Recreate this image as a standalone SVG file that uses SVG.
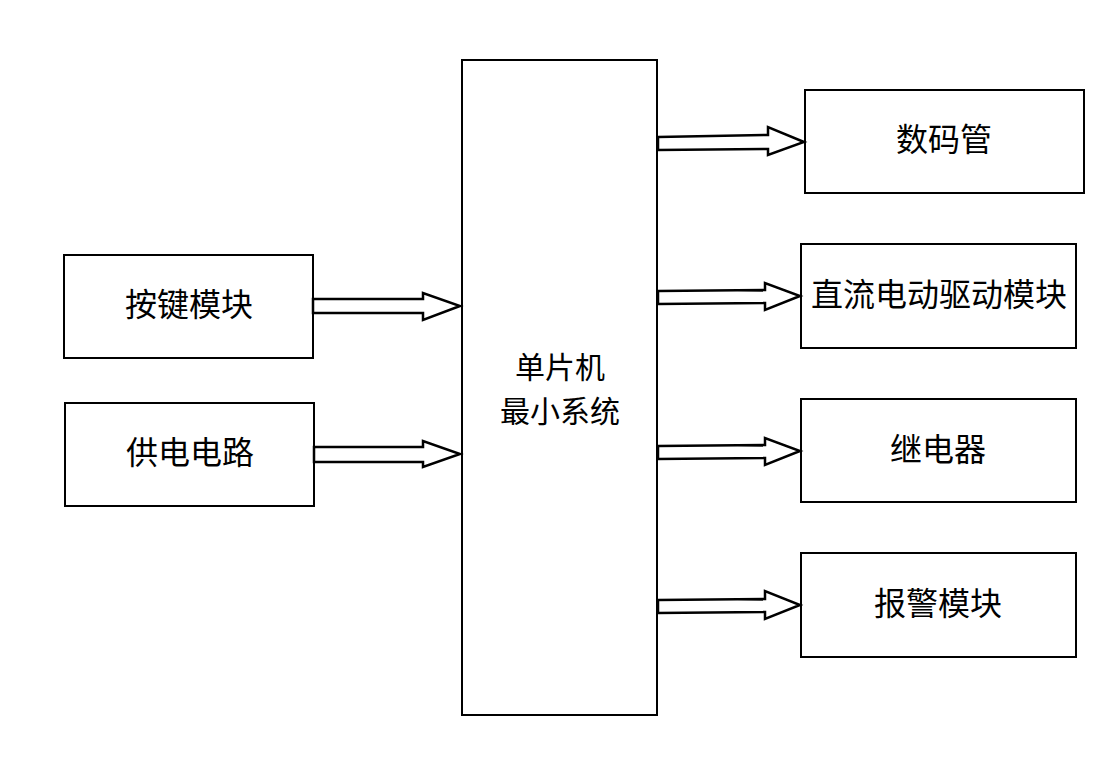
<svg xmlns="http://www.w3.org/2000/svg" width="1101" height="767" viewBox="0 0 1101 767">
<style>
.box{fill:#fff;stroke:#000;stroke-width:2}
.arr{fill:#fff;stroke:#000;stroke-width:2.5;stroke-linejoin:miter}
text{font-family:"Noto Sans CJK SC","Noto Sans CJK JP",sans-serif;font-size:32px;fill:#000;text-anchor:middle}
.m{font-size:30px}
</style>
<rect width="1101" height="767" fill="#fff"/>
<g id="mcu"><rect class="box" x="462" y="60" width="195" height="655"/><text class="m" x="560" y="378">单片机</text><text class="m" x="560" y="422">最小系统</text></g>
<g id="keys"><rect class="box" x="64" y="255" width="249" height="103"/><text x="189" y="316">按键模块</text></g>
<g id="power"><rect class="box" x="65" y="403" width="249" height="103"/><text x="190" y="464">供电电路</text></g>
<g id="display"><rect class="box" x="805" y="90" width="279" height="103"/><text x="944" y="151">数码管</text></g>
<g id="motor"><rect class="box" x="801" y="244" width="275" height="104"/><text x="939" y="306">直流电动驱动模块</text></g>
<g id="relay"><rect class="box" x="801" y="399" width="275" height="103"/><text x="938" y="461">继电器</text></g>
<g id="alarm"><rect class="box" x="801" y="553" width="275" height="104"/><text x="938" y="615">报警模块</text></g>
<g id="connectors">
<polygon class="arr" points="313,299 423,299 423,293 460,306 423,320 423,313 313,313"/>
<polygon class="arr" points="314,447 423,447 423,441 460,454 423,467 423,462 314,462"/>
<polygon class="arr" points="658,137 768,135 768,127 804,142 768,155 768,149 658,150"/>
<polygon class="arr" points="658,291 765,290 765,283 800,296 765,310 765,303 658,304"/>
<polygon class="arr" points="658,446 765,445 765,438 800,451 765,465 765,458 658,459"/>
<polygon class="arr" points="658,600 765,599 765,591 800,605 765,619 765,612 658,613"/>
</g>
</svg>
